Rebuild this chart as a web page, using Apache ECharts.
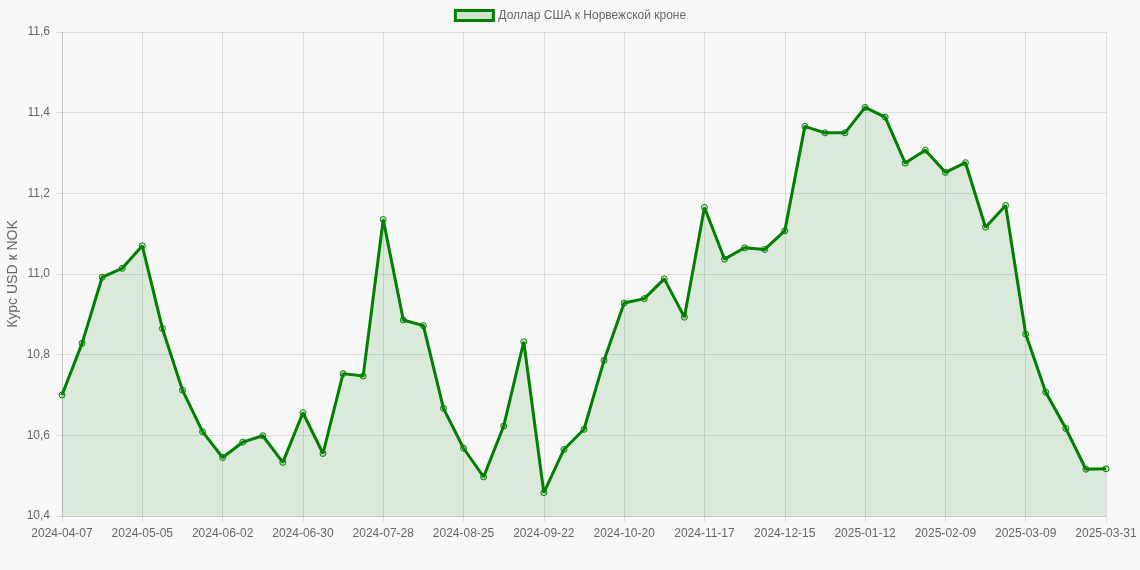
<!DOCTYPE html>
<html>
<head>
<meta charset="utf-8">
<script src="https://cdn.jsdelivr.net/npm/echarts@6/dist/echarts.min.js"></script>
<style>
  html, body { margin: 0; padding: 0; background: #f8f8f8; }
  #chart { width: 1140px; height: 570px; }
</style>
</head>
<body>
<div id="chart"></div>
<script>
// недельные даты (последняя точка - 31 марта)
var dates = [
  '2024-04-07', '2024-04-14', '2024-04-21', '2024-04-28', '2024-05-05', '2024-05-12', '2024-05-19',
  '2024-05-26', '2024-06-02', '2024-06-09', '2024-06-16', '2024-06-23', '2024-06-30', '2024-07-07',
  '2024-07-14', '2024-07-21', '2024-07-28', '2024-08-04', '2024-08-11', '2024-08-18', '2024-08-25',
  '2024-09-01', '2024-09-08', '2024-09-15', '2024-09-22', '2024-09-29', '2024-10-06', '2024-10-13',
  '2024-10-20', '2024-10-27', '2024-11-03', '2024-11-10', '2024-11-17', '2024-11-24', '2024-12-01',
  '2024-12-08', '2024-12-15', '2024-12-22', '2024-12-29', '2025-01-05', '2025-01-12', '2025-01-19',
  '2025-01-26', '2025-02-02', '2025-02-09', '2025-02-16', '2025-02-23', '2025-03-02', '2025-03-09',
  '2025-03-16', '2025-03-23', '2025-03-30', '2025-03-31'
];

// курс USD/NOK
var usdNok = [
  10.70, 10.828, 10.992, 11.014, 11.07, 10.865, 10.712,
  10.609, 10.545, 10.583, 10.599, 10.533, 10.656, 10.555,
  10.753, 10.747, 11.135, 10.886, 10.872, 10.667, 10.568,
  10.497, 10.623, 10.832, 10.458, 10.565, 10.615, 10.786,
  10.928, 10.939, 10.988, 10.893, 11.165, 11.037, 11.065,
  11.061, 11.107, 11.366, 11.35, 11.35, 11.413, 11.389,
  11.275, 11.307, 11.252, 11.276, 11.116, 11.17, 10.851,
  10.707, 10.617, 10.516, 10.517
];

var seriesName = 'Доллар США к Норвежской кроне';
var green = '#008000';
var textColor = '#666';
var gridColor = 'rgba(0,0,0,0.1)';

var myChart = echarts.init(document.getElementById('chart'));

myChart.setOption({
  backgroundColor: '#f8f8f8',
  textStyle: { fontFamily: 'Liberation Sans, Arial, sans-serif' },
  animation: false,
  legend: {
    top: 4,
    left: 'center',
    icon: 'rect',
    itemWidth: 38,
    itemHeight: 10,
    itemGap: 8,
    textStyle: { color: textColor, fontSize: 12 },
    data: [{
      name: seriesName,
      itemStyle: { color: 'rgba(0,128,0,0.17)', borderColor: green, borderWidth: 3 }
    }]
  },
  grid: { left: 62, right: 34, top: 32, bottom: 54, outerBoundsMode: 'none', containLabel: false },
  xAxis: {
    type: 'category',
    boundaryGap: false,
    data: dates,
    axisLine: { lineStyle: { color: gridColor } },
    axisTick: { show: true, interval: 3, length: 6, lineStyle: { color: gridColor } },
    axisLabel: { interval: 3, color: textColor, fontSize: 12, margin: 12 },
    splitLine: { show: true, interval: 3, lineStyle: { color: gridColor } }
  },
  yAxis: {
    type: 'value',
    min: 10.4,
    max: 11.6,
    interval: 0.2,
    name: 'Курс USD к NOK',
    nameLocation: 'middle',
    nameGap: 42,
    nameMoveOverlap: false,
    nameTextStyle: { color: textColor, fontSize: 14 },
    axisLine: { show: true, lineStyle: { color: gridColor } },
    axisTick: { show: true, length: 6, lineStyle: { color: gridColor } },
    axisLabel: {
      color: textColor,
      fontSize: 12,
      margin: 12,
      formatter: function (v) { return v.toFixed(1).replace('.', ','); }
    },
    splitLine: { lineStyle: { color: gridColor } }
  },
  series: [{
    name: seriesName,
    type: 'line',
    data: usdNok,
    symbol: 'circle',
    symbolSize: 6,
    showAllSymbol: true,
    lineStyle: { color: green, width: 3 },
    itemStyle: { color: 'rgba(0,128,0,0.15)', borderColor: green, borderWidth: 1 },
    areaStyle: { color: 'rgba(0,128,0,0.17)' }
  }]
});

window.onresize = function () {
  myChart.resize();
};
</script>
</body>
</html>
